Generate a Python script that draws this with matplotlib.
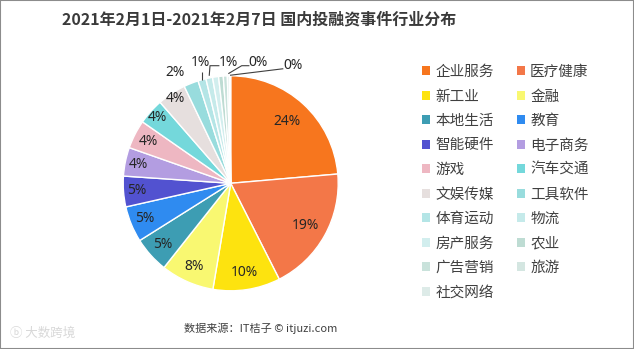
import numpy as np
import matplotlib
matplotlib.use('Agg')
import matplotlib.pyplot as plt
from matplotlib.patches import Rectangle

plt.rcParams['font.family'] = ['Noto Sans CJK SC', 'DejaVu Sans']

# data (share of events, %)
industries = ['企业服务', '医疗健康', '新工业', '金融', '本地生活', '教育', '智能硬件',
              '电子商务', '游戏', '汽车交通', '文娱传媒', '工具软件', '体育运动', '物流',
              '房产服务', '农业', '广告营销', '旅游', '社交网络']
shares = [23.6, 18.9, 10.1, 8.0, 5.4, 5.4, 4.6, 4.3, 4.3, 3.9, 4.3, 2.2,
          1.2, 1.0, 0.9, 0.7, 0.6, 0.3, 0.2]
colors = ['#F7761E', '#F37748', '#FDE30F', '#F9F871', '#3D9DB3', '#2F8BF0', '#5252D0',
          '#B39DE1', '#EEB7C2', '#74D8DB', '#E6DFDE', '#98DCDD', '#B4E5E6', '#C5EAEA',
          '#D2EEEE', '#BEDCD3', '#C9E2DB', '#D4E6E1', '#DDEBE8']

W, H = 634, 349
R = 107.5            # pie radius in px
cx, cy = 230.7, 183.3  # pie centre in px (from top)
half = 1.4
num_font = ['Noto Sans', 'DejaVu Sans']

fig = plt.figure(figsize=(W / 100, H / 100), dpi=100)
ax = fig.add_axes([(cx - half * R) / W, (H - cy - half * R) / H, 2 * half * R / W, 2 * half * R / H])

wedges, _ = ax.pie(shares, colors=colors, startangle=90, counterclock=False,
                   wedgeprops=dict(edgecolor='white', linewidth=1.0))
ax.set_xlim(-half, half)
ax.set_ylim(-half, half)
ax.set_aspect('equal')
ax.axis('off')

pct = [round(s) for s in shares]

# inside labels
inner_r = [0.78, 0.80, 0.84, 0.85, 0.85, 0.86, 0.875, 0.875, 0.86, 0.92, 0.94]
for i, r in enumerate(inner_r):
    w = wedges[i]
    a = np.deg2rad((w.theta1 + w.theta2) / 2)
    ax.text(r * np.cos(a), r * np.sin(a), f'{pct[i]}%', ha='center', va='center',
            fontsize=10, color='#262626', family=num_font)

# outside labels: index -> (text x, text y, elbow)
def px(x, y):
    return (x - cx) / R, (cy - y) / R

outer = {
    11: (px(175.5, 72), None),
    12: (px(200, 62.5), 'up'),
    13: (px(228, 62.5), px(210, 65.7)),
    17: (px(258, 62.5), px(241.7, 65.7)),
    18: (px(293, 65.5), None),
}
for i, (tpos, elbow) in outer.items():
    w = wedges[i]
    a = np.deg2rad((w.theta1 + w.theta2) / 2)
    ax.text(tpos[0], tpos[1], f'{pct[i]}%', ha='center', va='center',
            fontsize=10, color='#262626', family=num_font)
    if i == 11:
        continue
    rim = (np.cos(a), np.sin(a))
    if elbow == 'up':
        pts = [rim, (rim[0], tpos[1] - 0.085)]
    elif elbow is None:
        pts = [(rim[0], rim[1] + 0.005), (tpos[0] - 0.09, tpos[1] - 0.03)]
    else:
        pts = [(rim[0], rim[1] + 0.02), elbow, (tpos[0] - 0.08, elbow[1])]
    ax.plot([p[0] for p in pts], [p[1] for p in pts], color='#404040', lw=0.8,
            solid_capstyle='butt')

# legend, filled row by row
order = list(range(0, len(industries), 2)) + list(range(1, len(industries), 2))
leg = fig.legend([wedges[i] for i in order], [industries[i] for i in order],
                 ncol=2, loc='upper left', bbox_to_anchor=(422 / W, 1 - 65 / H),
                 frameon=False, fontsize=10.5, borderpad=0, borderaxespad=0,
                 handlelength=0.55, handleheight=0.55, handletextpad=0.35,
                 labelspacing=0.72, columnspacing=1.6)
for t in leg.get_texts():
    t.set_color('#404040')
for h in leg.legend_handles:
    h.set_edgecolor('none')

fig.text(259 / W, 1 - 19 / H, '2021年2月1日-2021年2月7日 国内投融资事件行业分布',
         ha='center', va='center', fontsize=11.5, fontweight='bold', color='#3A3A3A')
fig.text(261 / W, 1 - 328 / H, '数据来源：IT桔子 © itjuzi.com', ha='center', va='center',
         fontsize=8, color='#404040')
fig.text(10 / W, 1 - 333 / H, 'ⓑ 大数跨境', ha='left', va='center', fontsize=9,
         color='#D8D8D8', family=['Noto Sans CJK SC', 'DejaVu Sans'])

fig.patches.append(Rectangle((0, 0), 1, 1, transform=fig.transFigure, fill=False,
                             edgecolor='#8C8C8C', linewidth=1.5))

fig.savefig('out.png', dpi=100, facecolor='white')
